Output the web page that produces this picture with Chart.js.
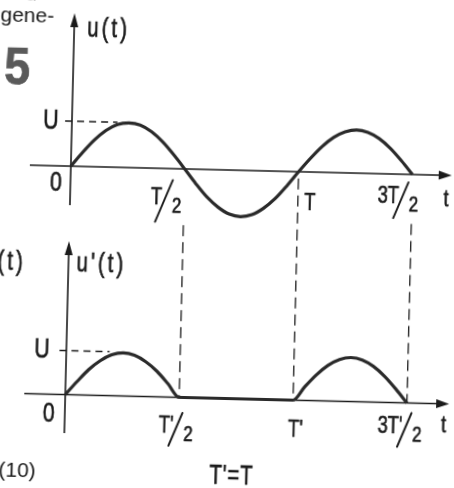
<!DOCTYPE html>
<html>
<head>
<meta charset="utf-8">
<script src="https://cdn.jsdelivr.net/npm/chart.js@4.4.0/dist/chart.umd.min.js"></script>
<style>
  html, body { margin: 0; padding: 0; background: #fff; }
  #wrap { width: 454px; height: 488px; overflow: hidden; position: relative; background: #fff; }
  /* the scan is a bit crooked, so the whole drawing is turned slightly;
     the canvas is 10px bigger all round so the turned corners stay covered */
  #myChart { position: absolute; left: -10px; top: -10px; transform: rotate(1.4deg); transform-origin: 237px 254px; }
</style>
</head>
<body>
<div id="wrap"><canvas id="myChart" width="474" height="508"></canvas></div>
<script>
'use strict';

// time in periods T
let tValues = [0, 0.05, 0.1, 0.15, 0.2, 0.25, 0.3, 0.35, 0.4, 0.45, 0.5, 0.55, 0.6, 0.65, 0.7, 0.75, 0.8, 0.85, 0.9, 0.95, 1, 1.05, 1.1, 1.15, 1.2, 1.25, 1.3, 1.35, 1.4, 1.45, 1.5];
// u(t) in units of U
let uValues = [0, 0.31, 0.59, 0.81, 0.95, 0.99, 0.95, 0.81, 0.59, 0.31, 0, -0.32, -0.61, -0.83, -0.98, -1.03, -0.98, -0.83, -0.61, -0.32, 0, 0.3, 0.57, 0.78, 0.91, 0.96, 0.91, 0.78, 0.57, 0.3, 0];
// u'(t) after the diode
let u2Values = [0, 0.3, 0.58, 0.79, 0.93, 0.98, 0.93, 0.79, 0.58, 0.3, 0, 0, 0, 0, 0, 0, 0, 0, 0, 0, 0, 0.31, 0.59, 0.81, 0.95, 1, 0.95, 0.81, 0.59, 0.31, 0];

let tickValues = [0, 0.5, 1, 1.5];
let topTickLabels = ['0', 'T/2', 'T', '3T/2'];
let bottomTickLabels = ['0', "T'/2", "T'", "3T'/2"];
let uLevel = 1;

let ink = '#1b1b1b';
let squeeze = 0.76;

function font(size, weight) {
    return (weight ? weight + ' ' : '') + size + 'px "Liberation Sans", Arial, sans-serif';
}

// narrow pen lettering: normal font squeezed sideways, slightly thickened
function drawText(c, text, x, y, size, align, baseline, sx, weight) {
    c.save();
    c.translate(x, y);
    c.scale(sx || squeeze, 1);
    c.font = font(size, weight);
    c.textAlign = align || 'center';
    c.textBaseline = baseline || 'middle';
    c.fillText(text, 0, 0);
    c.strokeStyle = c.fillStyle;
    c.lineWidth = 0.7;
    c.strokeText(text, 0, 0);
    c.restore();
}

// (cx, cy) is the middle of the long slash
function drawFraction(c, text, cx, cy, size, slashH) {
    let parts = text.split('/');
    drawText(c, parts[0], cx - 2, cy + 3, size, 'right', 'alphabetic');
    drawText(c, parts[1], cx + 8, cy + 11, size * 0.92, 'left', 'alphabetic');
    c.save();
    c.strokeStyle = c.fillStyle;
    c.lineWidth = 2;
    c.lineCap = 'round';
    c.beginPath();
    c.moveTo(cx - slashH * 0.2, cy + slashH / 2);
    c.lineTo(cx + slashH * 0.2, cy - slashH / 2);
    c.stroke();
    c.restore();
}

function drawLabel(c, text, cx, cy, size, slashH) {
    if (text.indexOf('/') >= 0) {
        drawFraction(c, text, cx, cy, size, slashH || 40);
        return;
    }
    drawText(c, text, cx, cy, size);
}

function drawAxes(c, X, Y, yTip, yEnd, xTip) {
    let x0 = X(0);
    let y0 = Y(0);
    c.setLineDash([]);
    c.lineWidth = 1.6;
    c.beginPath();
    c.moveTo(28, y0);
    c.lineTo(xTip - 8, y0);
    c.moveTo(x0, yEnd);
    c.lineTo(x0, yTip + 8);
    c.stroke();
    // arrow heads
    c.beginPath();
    c.moveTo(xTip, y0);
    c.lineTo(xTip - 13, y0 - 4.5);
    c.lineTo(xTip - 13, y0 + 4.5);
    c.closePath();
    c.moveTo(x0, yTip);
    c.lineTo(x0 - 4, yTip + 14);
    c.lineTo(x0 + 4, yTip + 14);
    c.closePath();
    c.fill();
}

// pixel helpers relative to the visible 454x488 area (chart area)
function helpers(chart) {
    let a = chart.chartArea;
    return {
        X: v => chart.scales.x.getPixelForValue(v) - a.left,
        YT: v => chart.scales.yTop.getPixelForValue(v) - a.top,
        YB: v => chart.scales.yBot.getPixelForValue(v) - a.top,
        left: a.left,
        top: a.top
    };
}

let sketchPlugin = {
    id: 'sketch',
    beforeDatasetsDraw(chart) {
        let c = chart.ctx;
        let h = helpers(chart);
        c.save();
        c.translate(h.left, h.top);
        c.strokeStyle = ink;
        c.fillStyle = ink;
        drawAxes(c, h.X, h.YT, 17, 209, 450);
        drawAxes(c, h.X, h.YB, 245, 437, 453);

        // dashed U levels
        c.lineWidth = 1.3;
        c.setLineDash([7, 5]);
        c.beginPath();
        c.moveTo(h.X(-0.03), h.YT(uLevel));
        c.lineTo(h.X(0.2), h.YT(uLevel));
        c.moveTo(h.X(-0.03), h.YB(uLevel));
        c.lineTo(h.X(0.19), h.YB(uLevel));
        c.stroke();

        // dashed drop lines from the top graph to the bottom one
        let dropStart = [-1.25, -0.15, -1.1];
        c.setLineDash([11, 6]);
        c.beginPath();
        for (let i = 1; i < tickValues.length; i++) {
            let px = h.X(tickValues[i]);
            c.moveTo(px, h.YT(dropStart[i - 1]));
            c.lineTo(px, h.YB(0));
        }
        c.stroke();
        c.restore();
    },
    afterDatasetsDraw(chart) {
        let c = chart.ctx;
        let h = helpers(chart);
        c.save();
        c.translate(h.left, h.top);
        c.fillStyle = ink;

        let topOff = [[-14.5, 17], [-20, 32.5], [12, 31], [-11, 26]];
        let botOff = [[-16, 20], [-3, 32], [3, 30], [-2, 27]];
        let topSlash = [0, 42, 0, 36];
        let botSlash = [0, 33, 0, 34];
        for (let i = 0; i < tickValues.length; i++) {
            let px = h.X(tickValues[i]);
            let size = i === 0 ? 28 : 24;
            drawLabel(c, topTickLabels[i], px + topOff[i][0], h.YT(0) + topOff[i][1], size, topSlash[i]);
            drawLabel(c, bottomTickLabels[i], px + botOff[i][0], h.YB(0) + botOff[i][1], size, botSlash[i]);
        }
        drawLabel(c, 'U', 48, h.YT(uLevel), 28);
        drawLabel(c, 'U', 44.6, h.YB(uLevel), 28);
        drawLabel(c, 't', 445, 195, 23);
        drawLabel(c, 't', 448, 421, 23);

        c.letterSpacing = '4px';
        drawText(c, 'u(t)', 82, 33, 27, 'left');
        drawText(c, "u'(t)", 77, 268, 27, 'left');
        drawText(c, '(t)', -2, 268, 27, 'left');
        c.letterSpacing = '1px';
        drawText(c, "T'=T", 237, 477, 27);
        c.letterSpacing = '0px';

        // bits of the page around the figure
        c.textAlign = 'left';
        c.textBaseline = 'alphabetic';
        c.font = font(21);
        c.fillText('ned', -4, 5);
        c.fillText('gene-', -5, 27);
        c.fillText('(10)', 4, 482);
        c.fillStyle = '#5a5a5a';
        drawText(c, '5', 13, 89, 52, 'center', 'alphabetic', 0.9, 'bold');
        c.restore();
    }
};

let points = function (vals) {
    return tValues.map(function (t, i) { return { x: t, y: vals[i] }; });
};

let ctx = document.getElementById('myChart').getContext('2d');
let myChart = new Chart(ctx, {
    type: 'line',
    data: {
        datasets: [{
            label: 'u(t)',
            data: points(uValues),
            yAxisID: 'yTop',
            borderColor: '#2a2a2a',
            borderWidth: 3.2,
            pointRadius: 0,
            cubicInterpolationMode: 'monotone'
        },
        {
            label: "u'(t)",
            data: points(u2Values),
            yAxisID: 'yBot',
            borderColor: '#2a2a2a',
            borderWidth: 3.2,
            pointRadius: 0,
            cubicInterpolationMode: 'monotone'
        }]
    },
    options: {
        responsive: false,
        animation: false,
        devicePixelRatio: 1,
        layout: { padding: 10 },
        plugins: { legend: { display: false }, tooltip: { enabled: false } },
        scales: {
            x: { type: 'linear', display: false, min: -0.3029, max: 1.69 },
            yTop: { type: 'linear', display: false, min: -7.067, max: 3.778 },
            yBot: { type: 'linear', display: false, min: -2.034, max: 9.057 }
        }
    },
    plugins: [sketchPlugin]
});
</script>
</body>
</html>
